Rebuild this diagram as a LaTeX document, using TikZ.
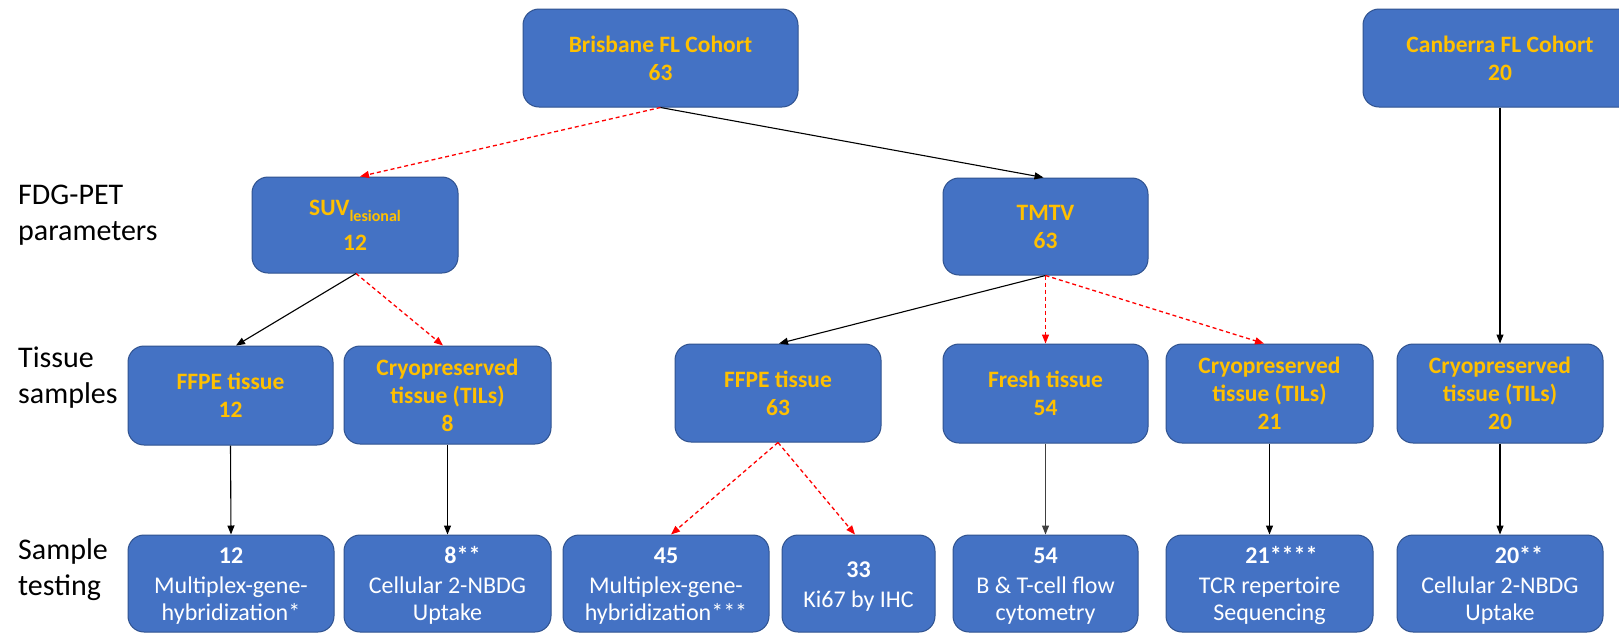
\documentclass[tikz,border=0pt]{standalone}
\usepackage{fontspec}
\setmainfont{Carlito}
\usetikzlibrary{arrows.meta}
\definecolor{boxfill}{RGB}{68,114,196}
\definecolor{boxline}{RGB}{47,82,143}
\definecolor{gold}{RGB}{255,192,0}
\definecolor{arrowgray}{RGB}{64,64,64}
\tikzset{
  box/.style={draw=boxline, line width=1pt, fill=boxfill, rounded corners=16pt, inner sep=0pt,
    minimum height=98pt, minimum width=206pt, align=center},
  upper/.style={box, text=gold, font=\fontsize{23.5}{28}\selectfont\bfseries},
  lower/.style={box, text=white, minimum height=97pt, font=\fontsize{24}{27}\selectfont},
  sidelabel/.style={anchor=north west, align=left, inner sep=0pt, font=\fontsize{30}{36}\selectfont},
  solidarrow/.style={draw=black, line width=1.1pt, -{Triangle[length=9pt,width=7pt]}},
  grayarrow/.style={draw=arrowgray, line width=1.1pt, -{Triangle[length=9pt,width=7pt]}},
  redarrow/.style={draw=red, line width=1.3pt, dash pattern=on 4pt off 3pt, -{Triangle[length=9pt,width=7pt]}},
}
\newcommand{\topstrut}{\rule{0pt}{24pt}}
\newcommand{\numstrut}{\rule{0pt}{21pt}}
\begin{document}
\begin{tikzpicture}[x=1pt,y=-1pt]
\useasboundingbox (0,0) rectangle (1619,633);
\clip (0,0) rectangle (1619,633);
\fill[white] (0,0) rectangle (1619,633);

% side labels (first baselines at 204, 367, 559)
\node[sidelabel] (lab1) at (18,180) {\topstrut FDG-PET\\parameters};
\node[sidelabel] (lab2) at (18,343) {\topstrut Tissue\\samples};
\node[sidelabel] (lab3) at (18,535) {\topstrut Sample\\testing};

% top row
\node[upper, minimum width=275pt] (bris) at (660.5,58) {Brisbane FL Cohort\\63};
\node[upper, minimum width=274pt] (canb) at (1500,58) {Canberra FL Cohort\\20};

% PET row
\node[upper, minimum height=96pt] (suv) at (355,225)
  {SUV\raisebox{-6pt}{\fontsize{16}{16}\selectfont lesional}\\[7pt]12};
\node[upper, minimum width=205pt, minimum height=97pt] (tmtv) at (1045.5,226.5) {TMTV\\63};

% tissue row
\node[upper, minimum width=205pt, minimum height=99pt] (ffpeA) at (230.5,395.5) {FFPE tissue\\12};
\node[upper, minimum width=207pt] (cryoA) at (447.5,395) {Cryopreserved\\tissue (TILs)\\8};
\node[upper] (ffpeB) at (778,393) {FFPE tissue\\63};
\node[upper, minimum width=205pt, minimum height=99pt] (fresh) at (1045.5,393.5) {Fresh tissue\\54};
\node[upper, minimum width=207pt, minimum height=99pt] (cryoB) at (1269.5,393.5) {Cryopreserved\\tissue (TILs)\\21};
\node[upper, minimum height=99pt] (cryoC) at (1500,393.5) {Cryopreserved\\tissue (TILs)\\20};

% testing row
\node[lower] (tA) at (231,583.5) {\numstrut\textbf{12}\\[2.5pt]Multiplex-gene-\\hybridization*};
\node[lower, minimum width=207pt] (tB) at (447.5,583.5) {\numstrut\hspace*{30pt}\textbf{8**}\\[2.5pt]Cellular 2-NBDG\\Uptake};
\node[lower] (tC) at (666,583.5) {\numstrut\textbf{45}\\[2.5pt]Multiplex-gene-\\hybridization***};
\node[lower, minimum width=153pt] (tD) at (858.5,583.5) {\numstrut\textbf{33}\\[3pt]Ki67 by IHC};
\node[lower, minimum width=185pt] (tE) at (1045.5,583.5) {\numstrut\textbf{54}\\[2.5pt]B \& T-cell flow\\cytometry};
\node[lower, minimum width=207pt] (tF) at (1269.5,583.5) {\numstrut\hspace*{24pt}\textbf{21****}\\[2.5pt]TCR repertoire\\Sequencing};
\node[lower] (tG) at (1500,583.5) {\numstrut\hspace*{38pt}\textbf{20**}\\[2.5pt]Cellular 2-NBDG\\Uptake};

% connectors
\draw[redarrow] (bris.south) -- ([xshift=5pt]suv.north);
\draw[solidarrow] (bris.south) -- ([xshift=-2pt]tmtv.north);
\draw[solidarrow] ([xshift=1pt]suv.south) -- ([xshift=5.5pt]ffpeA.north);
\draw[redarrow] ([xshift=1pt]suv.south) -- ([xshift=-4.5pt]cryoA.north);
\draw[solidarrow] (tmtv.south) -- ([xshift=1pt]ffpeB.north);
\draw[redarrow] (tmtv.south) -- (fresh.north);
\draw[redarrow] (tmtv.south) -- ([xshift=-5.5pt]cryoB.north);
\draw[solidarrow] (canb.south) -- (cryoC.north);

\draw[solidarrow] (ffpeA.south) -- (tA.north);
\draw[solidarrow] (cryoA.south) -- (tB.north);
\draw[redarrow] (ffpeB.south) -- ([xshift=5pt]tC.north);
\draw[redarrow] (ffpeB.south) -- ([xshift=-3.5pt]tD.north);
\draw[grayarrow] (fresh.south) -- (tE.north);
\draw[solidarrow] (cryoB.south) -- (tF.north);
\draw[solidarrow] (cryoC.south) -- (tG.north);
\end{tikzpicture}
\end{document}
